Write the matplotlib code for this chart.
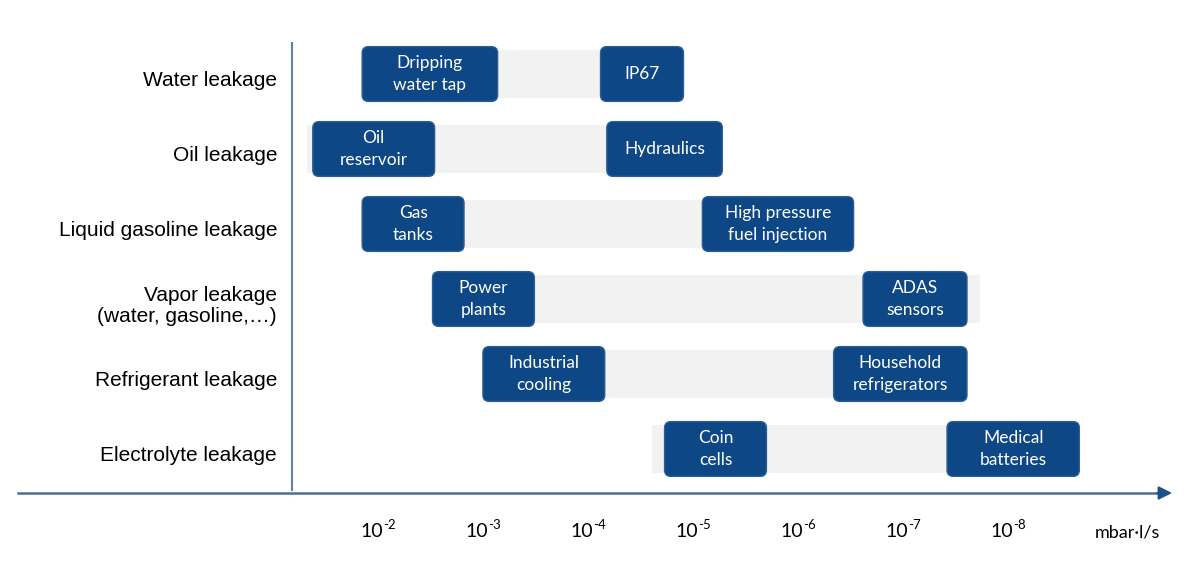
import matplotlib
matplotlib.use("Agg")
import matplotlib.pyplot as plt
from matplotlib.patches import FancyBboxPatch, Rectangle

# rows, top to bottom
rows = ["Water leakage", "Oil leakage", "Liquid gasoline leakage",
        "Vapor leakage\n(water, gasoline,\u2026)", "Refrigerant leakage",
        "Electrolyte leakage"]

# grey range per row, in decades (x = -log10 of leak rate in mbar.l/s)
range_lo = [1.83, 1.30, 1.83, 2.50, 2.98, 4.59]
range_hi = [4.89, 5.24, 6.48, 7.71, 7.52, 8.62]

# coarse end (left box) and fine end (right box) of every row
left_names = ["Dripping\nwater tap", "Oil\nreservoir", "Gas\ntanks",
              "Power\nplants", "Industrial\ncooling", "Coin\ncells"]
left_lo = [1.83, 1.36, 1.83, 2.50, 2.98, 4.71]
left_hi = [3.12, 2.52, 2.80, 3.47, 4.14, 5.68]

right_names = ["IP67", "Hydraulics", "High pressure\nfuel injection",
               "ADAS\nsensors", "Household\nrefrigerators", "Medical\nbatteries"]
right_lo = [4.10, 4.16, 5.07, 6.60, 6.32, 7.40]
right_hi = [4.89, 5.26, 6.51, 7.59, 7.59, 8.66]

exponents = [2, 3, 4, 5, 6, 7, 8]
unit = "mbar\u00b7l/s"

BLUE = "#0e4785"
EDGE = "#2d5d95"
GREY = "#f2f2f2"

fig = plt.figure(figsize=(11.96, 5.68), dpi=100)
ax = fig.add_axes([0, 0, 1, 1])
ax.set_xlim(-1.619, 9.771)
ax.set_ylim(6.587, -0.987)
ax.axis("off")

box_h = 0.73
band_h = 0.63
aspect = 1.4  # px per x unit / px per y unit


def box(x0, x1, y, label):
    p = FancyBboxPatch((x0, y - box_h / 2), x1 - x0, box_h,
                       boxstyle="round,pad=0,rounding_size=0.06",
                       mutation_aspect=aspect,
                       fc=BLUE, ec=EDGE, lw=1, zorder=3)
    ax.add_patch(p)
    ax.text((x0 + x1) / 2, y, label, color="white", ha="center", va="center",
            fontsize=12.5, family="Lato", linespacing=1.4, zorder=4)


for i, name in enumerate(rows):
    ax.add_patch(Rectangle((range_lo[i], i - band_h / 2), range_hi[i] - range_lo[i],
                           band_h, fc=GREY, ec="none", zorder=1))
    box(left_lo[i], left_hi[i], i, left_names[i])
    box(right_lo[i], right_hi[i], i, right_names[i])
    ax.text(1.02, i + 0.09, name, ha="right", va="center", fontsize=15,
            family="Liberation Sans", color="black", linespacing=1.15)

# axes lines
ax.plot([1.162, 1.162], [-0.413, 5.55], color="#5f82a8", lw=1.5, zorder=2)
ax.plot([-1.448, 9.45], [5.587, 5.587], color="#4a6f98", lw=1.8, zorder=2)
ax.annotate("", xy=(9.543, 5.587), xytext=(9.40, 5.587),
            arrowprops=dict(arrowstyle="-|>", color="#1d4f8c", lw=1.5,
                            mutation_scale=20, shrinkA=0, shrinkB=0))

# tick labels: 10 with a raised exponent
for e in exponents:
    ax.annotate("10", xy=(e, 6.18), xytext=(2.2, 0), textcoords="offset points",
                ha="right", va="baseline", fontsize=14, family="Lato")
    ax.annotate("-%d" % e, xy=(e, 6.18), xytext=(2.0, 6),
                textcoords="offset points", ha="left", va="baseline",
                fontsize=9.5, family="Lato")
ax.text(9.114, 6.18, unit, ha="center", va="baseline", fontsize=13, family="Lato")

fig.savefig("out.png", dpi=100)
